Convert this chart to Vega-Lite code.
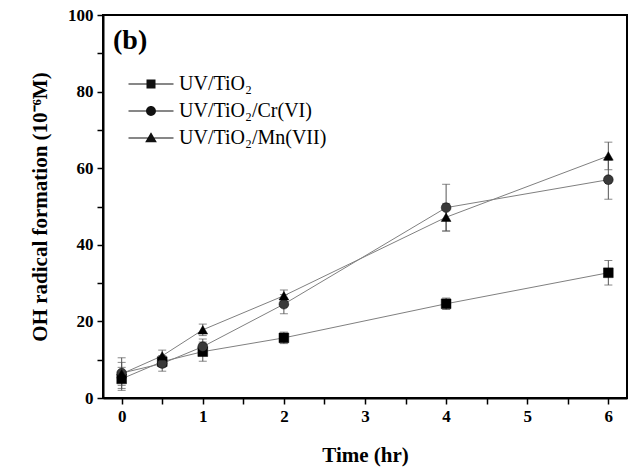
{
  "$schema": "https://vega.github.io/schema/vega-lite/v6.json",
  "width": 524,
  "height": 383,
  "autosize": {"type": "none"},
  "padding": {"left": 103, "top": 15, "right": 6, "bottom": 72},
  "background": "white",
  "title": {"text": "(b)", "anchor": "start", "frame": "group", "orient": "top", "dx": 10, "dy": 53, "fontSize": 28, "font": "Liberation Serif", "fontWeight": "bold", "color": "black"},
  "config": {
    "view": {"stroke": "black", "strokeWidth": 2},
    "axis": {"domainColor": "black", "domainWidth": 2, "tickColor": "black", "tickWidth": 1.5, "tickSize": 6, "grid": false, "labelFont": "Liberation Serif", "labelFontWeight": "bold", "labelFontSize": 17, "labelColor": "black", "titleFont": "Liberation Serif", "titleFontWeight": "bold", "titleFontSize": 21, "titleColor": "black"}
  },
  "data": {"values": [
    {"series": "UV/TiO₂", "t": 0, "y": 5.0, "err": 3.0},
    {"series": "UV/TiO₂", "t": 0.5, "y": 9.5, "err": 1.5},
    {"series": "UV/TiO₂", "t": 1, "y": 12.1, "err": 2.5},
    {"series": "UV/TiO₂", "t": 2, "y": 15.7, "err": 1.5},
    {"series": "UV/TiO₂", "t": 4, "y": 24.6, "err": 1.5},
    {"series": "UV/TiO₂", "t": 6, "y": 32.7, "err": 3.2},
    {"series": "UV/TiO₂/Cr(VI)", "t": 0, "y": 6.5, "err": 4.0},
    {"series": "UV/TiO₂/Cr(VI)", "t": 0.5, "y": 9.0, "err": 2.0},
    {"series": "UV/TiO₂/Cr(VI)", "t": 1, "y": 13.4, "err": 2.0},
    {"series": "UV/TiO₂/Cr(VI)", "t": 2, "y": 24.5, "err": 2.5},
    {"series": "UV/TiO₂/Cr(VI)", "t": 4, "y": 49.7, "err": 6.1},
    {"series": "UV/TiO₂/Cr(VI)", "t": 6, "y": 57.0, "err": 5.1},
    {"series": "UV/TiO₂/Mn(VII)", "t": 0, "y": 6.3, "err": 3.0},
    {"series": "UV/TiO₂/Mn(VII)", "t": 0.5, "y": 11.0, "err": 1.5},
    {"series": "UV/TiO₂/Mn(VII)", "t": 1, "y": 17.8, "err": 1.5},
    {"series": "UV/TiO₂/Mn(VII)", "t": 2, "y": 26.7, "err": 1.5},
    {"series": "UV/TiO₂/Mn(VII)", "t": 4, "y": 47.2, "err": 3.6},
    {"series": "UV/TiO₂/Mn(VII)", "t": 6, "y": 63.2, "err": 3.6}
  ]},
  "encoding": {
    "x": {"field": "t", "type": "quantitative", "title": "Time (hr)",
      "scale": {"domain": [-0.23, 6.23], "nice": false, "zero": false},
      "axis": {"values": [0, 0.5, 1, 1.5, 2, 2.5, 3, 3.5, 4, 4.5, 5, 5.5, 6], "labelExpr": "datum.value % 1 == 0 ? format(datum.value, 'd') : ''", "labelPadding": 4, "titlePadding": 20}},
    "y": {"field": "y", "type": "quantitative", "title": "OH radical formation (10⁻⁶M)",
      "scale": {"domain": [0, 100], "nice": false},
      "axis": {"values": [0, 10, 20, 30, 40, 50, 60, 70, 80, 90, 100], "labelExpr": "datum.value % 20 == 0 ? datum.label : ''", "labelPadding": 4, "titlePadding": 17}}
  },
  "layer": [
    {
      "mark": {"type": "errorbar", "ticks": {"size": 8, "color": "#555555", "strokeWidth": 1}, "rule": {"color": "#555555", "strokeWidth": 1}},
      "encoding": {"yError": {"field": "err"}, "detail": {"field": "series"}}
    },
    {
      "mark": {"type": "line", "color": "#808080", "strokeWidth": 1},
      "encoding": {"detail": {"field": "series"}}
    },
    {
      "mark": {"type": "point", "filled": true, "opacity": 1, "size": 95, "stroke": "black", "strokeWidth": 0.5},
      "encoding": {
        "color": {"condition": {"test": "datum.series === 'UV/TiO₂/Cr(VI)'", "value": "#3a3a3a"}, "value": "#000000"},
        "shape": {"condition": [
          {"test": "datum.series === 'UV/TiO₂/Cr(VI)'", "value": "circle"},
          {"test": "datum.series === 'UV/TiO₂/Mn(VII)'", "value": "triangle-up"}
        ], "value": "square"}
      }
    },
    {
      "mark": {"type": "point", "filled": true, "opacity": 0, "size": 81, "color": "#111111"},
      "encoding": {
        "shape": {"field": "series", "type": "nominal", "title": null,
          "scale": {"domain": ["UV/TiO₂", "UV/TiO₂/Cr(VI)", "UV/TiO₂/Mn(VII)"],
            "range": ["M-5,-0.11H5V0.11H-5ZM-1,-1H1V1H-1Z", "M-5,-0.11H5V0.11H-5ZM-1.1,0A1.1,1.1,0,1,1,1.1,0A1.1,1.1,0,1,1,-1.1,0Z", "M-5,-0.11H5V0.11H-5ZM0,-1.3L1.3,0.95H-1.3Z"]},
          "legend": {"orient": "none", "legendX": 38, "legendY": 59, "labelFont": "Liberation Serif", "labelFontSize": 20, "labelColor": "black", "rowPadding": 7, "labelOffset": 18, "symbolOffset": 0,
            "symbolOpacity": 1, "symbolSize": 81, "symbolFillColor": "#111111", "symbolStrokeColor": "#333333", "symbolStrokeWidth": 1}
        }
      }
    }
  ]
}
